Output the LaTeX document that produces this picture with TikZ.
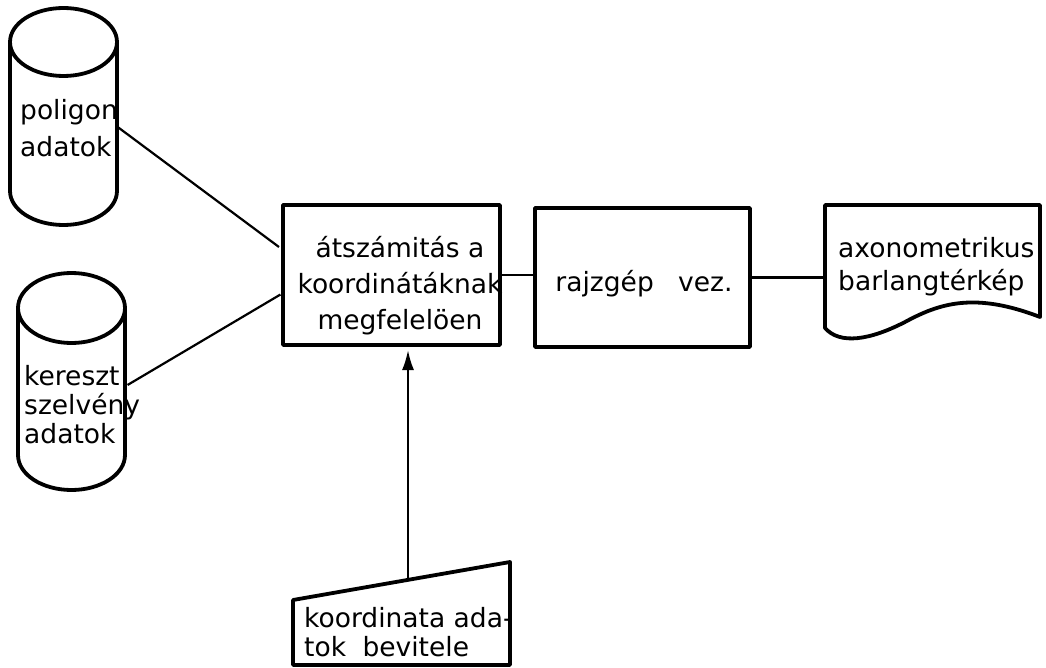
\documentclass[tikz,border=0pt]{standalone}
\usepackage{fontspec}
\setmainfont{DejaVu Sans}
\usetikzlibrary{arrows.meta,calc}
\begin{document}
\begin{tikzpicture}[x=1pt,y=-1pt,
  area/.style 2 args={minimum width=#1, minimum height=#2, inner sep=0pt, outer sep=0pt},
  lbl/.style={font=\fontsize{26.5}{#1}\selectfont, inner sep=0pt, align=left},
  lbl/.default=34,
  boxline/.style={line width=3.8pt, line join=round},
  wire/.style={line width=2.2pt}]
\useasboundingbox (0,0) rectangle (1046,668);

% data stores (cylinders)
\node[area={107pt}{217pt}] (cyl1) at (63.5,116.5) {};
\draw[boxline] ([yshift=-34pt]cyl1.north west) -- ([yshift=34pt]cyl1.south west)
  arc[start angle=180,end angle=360,x radius=53.5pt,y radius=34pt]
  -- ([yshift=-34pt]cyl1.north east);
\draw[boxline] ([yshift=-34pt]cyl1.north) ellipse[x radius=53.5pt,y radius=34pt];
\node[lbl=37, anchor=west] (cyl1t) at (20,128.5) {poligon\\adatok};

\node[area={107pt}{217pt}] (cyl2) at (71.5,381.5) {};
\draw[boxline] ([yshift=-35pt]cyl2.north west) -- ([yshift=35pt]cyl2.south west)
  arc[start angle=180,end angle=360,x radius=53.5pt,y radius=35pt]
  -- ([yshift=-35pt]cyl2.north east);
\draw[boxline] ([yshift=-35pt]cyl2.north) ellipse[x radius=53.5pt,y radius=35pt];
\node[lbl=29, anchor=west] (cyl2t) at (24,405) {kereszt\\szelvény\\adatok};

% processing boxes
\node[draw, boxline, area={217pt}{140pt}] (box1) at (391.5,275) {};
\node[lbl=36, align=center] (box1t) at (400,286) {átszámitás a\\koordinátáknak\\megfelelöen};

\node[draw, boxline, area={215pt}{139pt}] (box2) at (642.5,277.5) {};
\node[lbl] (box2t) at (644,284) {rajzgép\hspace{16pt} vez.};

% output document
\node[area={215pt}{123pt}] (doc) at (932.5,266.5) {};
\draw[boxline] (doc.north west) -- (doc.north east) -- ([yshift=11pt]doc.south east)
  .. controls (975,292) and (940,303) .. (905,322)
  .. controls (870,340) and (840,345) .. (doc.south west) -- cycle;
\node[lbl=33, anchor=west] (doct) at (838,266.5) {axonometrikus\\barlangtérkép};

% manual input
\node[area={217pt}{103pt}] (mi) at (401.5,613.5) {};
\draw[boxline] (mi.south west) -- ([yshift=-38pt]mi.north west) -- (mi.north east)
  -- (mi.south east) -- cycle;
\node[lbl=29, anchor=west] (mit) at (304,632.5) {koordinata ada-\\tok\hspace{8pt} bevitele};

% connectors
\draw[wire, shorten >=5pt] ([yshift=-10pt]cyl1.east) -- ([yshift=25pt]box1.west);
\draw[wire, shorten <=3pt, shorten >=3pt] ([yshift=-5pt]cyl2.east) -- ([yshift=-18pt]box1.west);
\draw[wire] (box1.east) -- (box1.east -| box2.west);
\draw[wire] (box2.east) -- (box2.east -| doc.west);
\coordinate (foot) at (408,580);
\draw[wire, -{Latex[length=20pt,width=12pt]}, shorten >=5pt] (foot) -- (foot |- box1.south);
\end{tikzpicture}
\end{document}
